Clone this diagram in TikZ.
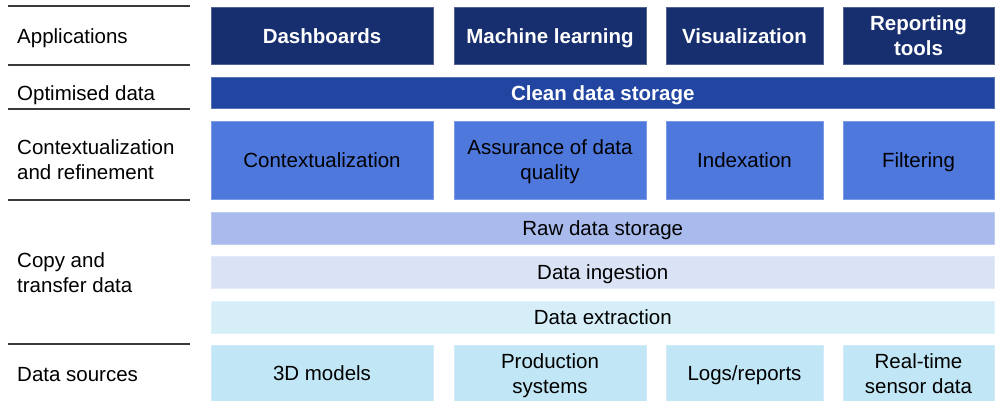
\documentclass[tikz,border=0pt]{standalone}
\usepackage{fontspec}
\setmainfont{Liberation Sans}
\definecolor{cApp}{HTML}{172F6E}
\definecolor{cClean}{HTML}{2145A0}
\definecolor{cCtx}{HTML}{4F78DC}
\definecolor{cRaw}{HTML}{A8BBEC}
\definecolor{cIng}{HTML}{DAE3F5}
\definecolor{cExt}{HTML}{D6EEF8}
\definecolor{cSrc}{HTML}{C1E6F5}
\definecolor{cLine}{HTML}{3A3A3A}
\begin{document}
\begin{tikzpicture}[x=1pt,y=-1pt,
  every node/.style={font=\fontsize{20.5}{25}\selectfont, inner sep=0pt, align=center, text height=14.7pt, text depth=0pt},
  two/.style={text height=39.7pt},
  blk/.style={rectangle, line width=0.8pt},
  app/.style={blk, fill=cApp, draw=cApp!75!white, text=white, font=\fontsize{20.5}{25}\selectfont\bfseries, minimum height=57},
  clean/.style={blk, fill=cClean, draw=cClean!75!white, text=white, font=\fontsize{20.5}{25}\selectfont\bfseries, minimum height=31, minimum width=783.5},
  ctx/.style={blk, fill=cCtx, draw=cCtx!75!white, text=black, minimum height=78},
  raw/.style={blk, fill=cRaw, draw=cRaw!75!white, minimum height=32, minimum width=783.5},
  ing/.style={blk, fill=cIng, draw=cIng!75!white, minimum height=32, minimum width=783.5},
  ext/.style={blk, fill=cExt, draw=cExt!75!white, minimum height=32, minimum width=783.5},
  src/.style={blk, fill=cSrc, draw=cSrc!75!white, minimum height=56},
  lbl/.style={anchor=west, align=left},
  sep/.style={draw=cLine, line width=1.3pt}
]
\useasboundingbox (0,0) rectangle (995,401);
% separator lines
\foreach \yy/\nm in {6/s1,65/s2,109/s3,200/s4,344/s5}{
  \coordinate (\nm a) at (8,\yy);
  \coordinate (\nm b) at (190,\yy);
  \draw[sep] (\nm a) -- (\nm b);
}
% left labels
\node[lbl] (lApp) at (17,36) {Applications};
\node[lbl] (lOpt) at (17,93) {Optimised data};
\node[lbl, two] (lCtx) at (17,160) {Contextualization\\and refinement};
\node[lbl, two] (lCopy) at (17,272.5) {Copy and\\transfer data};
\node[lbl] (lSrc) at (17,374) {Data sources};
% applications
\node[app, minimum width=222] (dash) at (322,35.8) {Dashboards};
\node[app, minimum width=192] (ml) at (550,35.8) {Machine learning};
\node[app, minimum width=157] (vis) at (744.5,35.8) {Visualization};
\node[app, two, minimum width=151] (rep) at (918.5,35.5) {Reporting\\tools};
% clean data storage
\node[clean] (clean) at (602.75,92.8) {Clean data storage};
% contextualization
\node[ctx, minimum width=222] (ctx1) at (322,160) {Contextualization};
\node[ctx, two, minimum width=192] (ctx2) at (550,160) {Assurance of data\\quality};
\node[ctx, minimum width=157] (ctx3) at (744.5,160) {Indexation};
\node[ctx, minimum width=151] (ctx4) at (918.5,160) {Filtering};
% copy and transfer
\node[raw] (raw) at (602.75,228) {Raw data storage};
\node[ing] (ing) at (602.75,272) {Data ingestion};
\node[ext] (ext) at (602.75,317) {Data extraction};
% sources
\node[src, minimum width=222] (src1) at (322,373.5) {3D models};
\node[src, two, minimum width=192] (src2) at (550,373.5) {Production\\systems};
\node[src, minimum width=157] (src3) at (744.5,373.5) {Logs/reports};
\node[src, two, minimum width=151] (src4) at (918.5,373.5) {Real-time\\sensor data};
\end{tikzpicture}
\end{document}
